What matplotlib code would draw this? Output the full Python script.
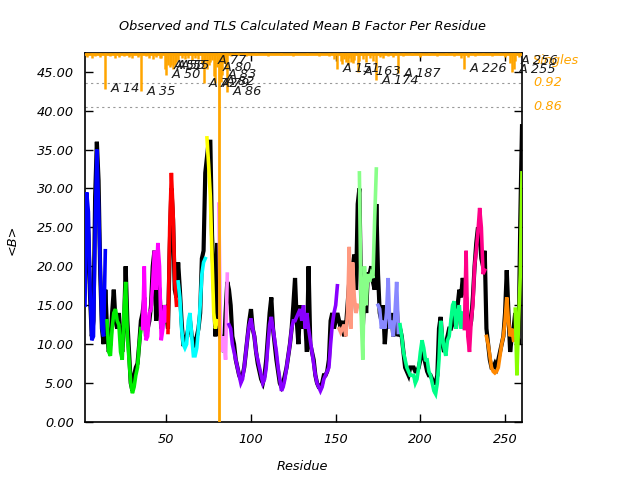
import matplotlib
matplotlib.use('Agg')
import matplotlib.pyplot as plt

# ---------------- data ----------------
first_residue = 2
observed_b = [
    18, 28, 24, 16, 11, 13, 29, 36, 31, 19, 12, 10, 17, 12,               # 2-15
    9, 10, 14, 17, 13, 12, 14, 11, 9, 12, 20, 13, 9, 5, 4, 6, 7, 7.5, 10, 13, 14,  # 16-36
    16, 11, 12, 13, 15, 20, 22, 13, 18, 17, 12, 13, 15, 14, 12,           # 37-51
    22, 30, 26, 17, 16,                                                  # 52-56
    20.5, 17, 13, 10, 10, 11, 12, 13, 11, 10.5, 10, 11, 12, 14, 21, 22, 32,  # 57-73
    34, 36, 36, 24, 18, 11, 23,                                          # 74-80
    12, 11, 10, 9, 14, 18,                                               # 81-86
    17, 15, 11, 10, 8, 7, 6, 5.5, 6, 7, 9, 11, 13, 14.5, 12, 11, 9, 7.5, 6.5, 5.5,
    5, 6, 8, 11, 14, 16, 12, 10, 8, 6.5, 5, 4.5, 5, 6, 7, 8.5, 10, 12, 15, 18.5,
    13, 10, 15, 12, 14, 13, 9, 20, 10, 9, 8, 6, 5, 4.5, 4.5, 5, 6, 6, 6.5, 8,
    13, 14, 12, 13, 14,                                                  # 87-151
    13, 12, 13, 11, 12, 15, 18, 14, 20, 21.5, 17, 28,                    # 152-163
    30, 16, 12, 17, 14, 19, 19, 20, 18, 17, 28,                          # 164-174
    19, 14, 13, 15, 10, 13, 14, 12, 14, 11, 12, 15, 11,                  # 175-187
    12, 11, 9, 7, 6.5, 6, 7, 7, 7, 6.5, 6.5, 7, 8, 9, 8.5, 7.5, 6.5, 6, 6, 5.5,
    5, 5, 6, 12, 13.5, 10, 9, 10, 11, 12, 12, 14, 13, 12, 15, 17, 16, 18.5,  # 188-225
    17, 16, 13, 12, 13, 16, 20, 23, 25, 24, 21, 20, 22,                  # 226-238
    12, 10, 8, 7, 7, 7.5, 7, 8, 9, 10, 11, 14, 19.5, 14, 9, 11, 12,      # 239-255
    14, 12, 10, 26, 38,                                                  # 256-260
]

tls_group_starts = [2, 15, 36, 51, 57, 74, 81, 87, 152, 164, 175, 188, 226, 239, 256]
tls_group_colors = ['#0000ff', '#00ee00', '#ff00ff', '#ff0000', '#00ffff', '#ffff00',
                    '#ff88ff', '#8800ff', '#ff9980', '#88ff88', '#8888ff', '#00ff88',
                    '#ff0088', '#ff8800', '#88ff00']
tls_blue = [15, 29.5, 27, 17, 10.5, 11, 25, 35, 28, 20, 12, 11, 22]
tls_green = [13, 9, 8.5, 12, 14, 14.5, 13, 12.5, 9, 8, 14, 18, 11, 8, 5, 3.7, 4.5, 6, 7, 10, 12]
tls_magenta = [12, 20, 10.5, 11, 14, 14.5, 18, 22, 17, 23, 20, 10.5, 12, 15, 13]
tls_red = [11.5, 25, 32, 27, 18, 15]
tls_cyan = [18, 16, 12, 10, 9.5, 10, 13, 14, 11, 8.5, 8.5, 9.5, 12, 15, 19, 20.5, 21]
tls_yellow = [36.5, 33, 29, 21, 14, 12, 13]
tls_pink = [28, 11, 9, 11, 8, 19]
tls_purple = [12.5, 12, 10, 9, 8, 7, 6, 5, 5.5, 7, 9, 11, 12.5, 13.3, 12, 11, 9, 8, 7, 6,
              5, 5.5, 7, 10, 12.5, 13.5, 12, 10.5, 9, 7, 5.5, 4, 4.5, 5.5, 7, 8.5, 10, 12, 13, 13,
              13.5, 14, 14.5, 13, 15, 12, 14, 12, 10.5, 9, 7.5, 6, 5, 4.5, 4, 4.5, 5.5, 6, 6.5, 7,
              10, 12.5, 14, 15, 17.5]
tls_salmon = [12, 11.5, 12, 12.5, 11, 14, 22.5, 12, 20.5, 16, 14, 15]
tls_lightgreen = [32, 14, 8, 20, 15, 19, 18, 19, 18.5, 26, 32.5]
tls_periwinkle = [15, 14.5, 12, 13, 12, 14, 18.5, 12, 13, 11, 14, 18, 11.5]
tls_springgreen = [12.5, 11, 9, 8, 7, 6.5, 6, 6, 6, 5, 5.5, 7, 9, 10.5, 9.5, 8, 8, 6.5, 6, 5,
                   4, 3.6, 5, 8, 13, 11, 9.5, 8.5, 10.5, 11, 13, 15, 15.5, 12, 14, 15, 12, 14]
tls_deeppink = [12, 22, 11, 9, 13, 15, 20, 22, 24.5, 27.5, 25, 19, 19.5]
tls_orange = [11, 10, 8.5, 7, 6.5, 6.3, 6.5, 7, 8.5, 10, 11, 13, 16, 13, 11, 12, 10.5]
tls_lime = [14.5, 6, 13, 19, 32]
tls_group_values = [tls_blue, tls_green, tls_magenta, tls_red, tls_cyan, tls_yellow, tls_pink,
                    tls_purple, tls_salmon, tls_lightgreen, tls_periwinkle, tls_springgreen,
                    tls_deeppink, tls_orange, tls_lime]

# top orange bars: residue and depth below the top edge (B units)
bar_residues = [3, 6, 8, 11, 14, 17, 20, 22, 25, 28, 30, 33, 35, 38, 40, 42, 44, 46, 47, 49,
                50, 51, 52, 53, 54, 55, 56, 57, 59, 61, 63, 65, 67, 69, 71, 72, 73, 74, 75, 76,
                77, 78, 79, 80, 82, 83, 84, 85, 86, 88, 92, 97, 103, 110, 118, 125, 133, 140,
                146, 149, 151, 153, 154, 155, 156, 157, 158, 159, 160, 161, 163, 164, 166, 168,
                170, 172, 174, 176, 178, 181, 184, 187, 190, 195, 200, 205, 210, 215, 220, 224,
                226, 228, 232, 237, 242, 247, 250, 253, 254, 255, 256, 258]
bar_depths = [0.5, 0.6, 0.4, 0.5, 4.6, 0.4, 0.6, 0.5, 0.4, 0.5, 0.6, 0.5, 4.9, 0.4, 0.6, 0.8,
              0.5, 0.7, 0.6, 2.1, 2.8, 1.6, 1.8, 1.6, 2.0, 1.6, 1.2, 0.9, 0.6, 0.8, 0.6, 0.9,
              0.6, 0.8, 1.3, 3.9, 1.0, 2.1, 1.5, 1.2, 0.9, 3.0, 3.9, 1.8, 3.7, 2.8, 1.3, 2.0,
              5.0, 0.4, 0.3, 0.4, 0.3, 0.4, 0.3, 0.4, 0.3, 0.4, 0.4, 0.8, 2.0, 1.0, 1.4, 0.8,
              1.2, 1.5, 0.7, 1.1, 1.3, 0.9, 2.4, 1.0, 0.8, 1.2, 0.7, 1.0, 3.5, 0.5, 0.6, 0.4,
              0.5, 2.6, 0.4, 0.3, 0.5, 0.3, 0.4, 0.3, 0.4, 0.6, 2.0, 0.5, 0.4, 0.3, 0.4, 0.3,
              0.5, 1.3, 2.4, 2.1, 1.0, 0.5]
label_residues = [14, 35, 50, 51, 53, 55, 72, 77, 79, 80, 82, 83, 86, 151, 163, 174, 187,
                  226, 255, 256]
marker_residue = 81
quantile_levels = [43.6, 40.5]
quantile_labels = ['0.92', '0.86']
band_label = 'Singles'

y_top = 47.4
y_ticks = [0, 5, 10, 15, 20, 25, 30, 35, 40, 45]
x_ticks = [50, 100, 150, 200, 250]

# ---------------- plot ----------------
FS = 9.3
fig = plt.figure(figsize=(6.4, 4.8), dpi=100)
ax = fig.add_axes([85 / 640, 58 / 480, 437 / 640, 369 / 480])

res = list(range(first_residue, first_residue + len(observed_b)))
last_residue = res[-1]

for lvl in quantile_levels:
    ax.axhline(lvl, color='#999999', lw=0.8, ls=(0, (2, 3)), zorder=1)

ax.plot(res, observed_b, color='black', lw=3.0, solid_joinstyle='miter', zorder=3)
for start, col, vals in zip(tls_group_starts, tls_group_colors, tls_group_values):
    r = list(range(start, start + len(vals)))
    ax.plot(r, vals, color=col, lw=2.6, solid_joinstyle='miter', zorder=4)

ax.vlines(bar_residues, [y_top - d for d in bar_depths], y_top, color='#ffa500', lw=1.8, zorder=5)
ax.axhline(y_top - 0.1, color='#ffa500', lw=2.0, zorder=5)
ax.axvline(marker_residue, color='#ffa500', lw=2.0, zorder=5)

depth_of = dict(zip(bar_residues, bar_depths))
for lr in label_residues:
    ax.text(lr + 3.3, y_top - depth_of[lr], f'A {lr}', fontsize=FS, style='italic',
            color='#1a1a1a', ha='left', va='center', zorder=6, clip_on=False)

ax.text(1.025, 46.4, band_label, transform=ax.get_yaxis_transform(), color='#ffa500',
        fontsize=FS, style='italic', ha='left', va='center', zorder=0)
for lvl, lab in zip(quantile_levels, quantile_labels):
    ax.text(1.025, lvl, lab, transform=ax.get_yaxis_transform(), color='#ffa500',
            fontsize=FS, style='italic', ha='left', va='center')

ax.set_xlim(first_residue, last_residue)
ax.set_ylim(0, y_top)
ax.set_xticks(x_ticks)
ax.set_yticks(y_ticks)
ax.set_xticklabels([str(v) for v in x_ticks], fontsize=FS, style='italic')
ax.set_yticklabels([f'{v:.2f}' for v in y_ticks], fontsize=FS, style='italic')
ax.tick_params(direction='in', length=6, width=1, top=True, right=True, pad=8)
for sp in ax.spines.values():
    sp.set_linewidth(1.2)

fig.text(302 / 640, 1 - 27 / 480, 'Observed and TLS Calculated Mean B Factor Per Residue',
         ha='center', va='center', fontsize=FS, style='italic')
fig.text(302 / 640, 1 - 466 / 480, 'Residue', ha='center', va='center', fontsize=FS, style='italic')
fig.text(12 / 640, 0.5, '<B>', ha='center', va='center', rotation=90, fontsize=FS, style='italic')

fig.savefig('out.png', dpi=100)
